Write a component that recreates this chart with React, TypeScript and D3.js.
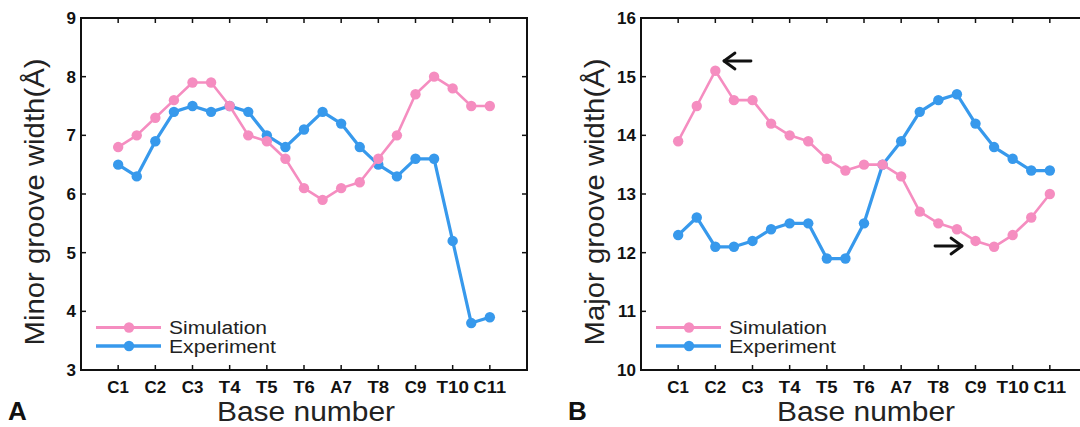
import React from "react";
import * as d3 from "d3";

const categories = ["C1", "C2", "C3", "T4", "T5", "T6", "A7", "T8", "C9", "T10", "C11"];

const minorSimulation = [6.8, 7.0, 7.3, 7.6, 7.9, 7.9, 7.5, 7.0, 6.9, 6.6, 6.1, 5.9, 6.1, 6.2, 6.6, 7.0, 7.7, 8.0, 7.8, 7.5, 7.5];
const minorExperiment = [6.5, 6.3, 6.9, 7.4, 7.5, 7.4, 7.5, 7.4, 7.0, 6.8, 7.1, 7.4, 7.2, 6.8, 6.5, 6.3, 6.6, 6.6, 5.2, 3.8, 3.9];

const majorSimulation = [13.9, 14.5, 15.1, 14.6, 14.6, 14.2, 14.0, 13.9, 13.6, 13.4, 13.5, 13.5, 13.3, 12.7, 12.5, 12.4, 12.2, 12.1, 12.3, 12.6, 13.0];
const majorExperiment = [12.3, 12.6, 12.1, 12.1, 12.2, 12.4, 12.5, 12.5, 11.9, 11.9, 12.5, 13.5, 13.9, 14.4, 14.6, 14.7, 14.2, 13.8, 13.6, 13.4, 13.4];

const minorTicks = [3, 4, 5, 6, 7, 8, 9];
const majorTicks = [10, 11, 12, 13, 14, 15, 16];

const seriesNames = ["Simulation", "Experiment"];

const PINK = "#F58DC0";
const BLUE = "#3799EC";
const FONT = "'Liberation Sans', Arial, Helvetica, sans-serif";

type PanelProps = {
  left: number;
  letter: string;
  yLabel: string;
  yDomain: [number, number];
  yTicks: number[];
  sim: number[];
  exp: number[];
  arrows?: { x: number; y: number; dir: "left" | "right" }[];
};

const TOP = 18;
const BOTTOM = 370;
const WIDTH = 446;

function Panel({ left, letter, yLabel, yDomain, yTicks, sim, exp, arrows }: PanelProps) {
  const x = d3.scaleLinear().domain([0, categories.length + 1]).range([left, left + WIDTH]);
  const y = d3.scaleLinear().domain(yDomain).range([BOTTOM, TOP]);
  const pos = sim.map((_, i) => 1 + i / 2);
  const line = d3
    .line<number>()
    .x((_, i) => x(pos[i]))
    .y((d) => y(d));
  const right = left + WIDTH;
  const tickLen = 5;
  const series = [
    { name: seriesNames[1], data: exp, color: BLUE, width: 3.2 },
    { name: seriesNames[0], data: sim, color: PINK, width: 2.6 },
  ];
  return (
    <g>
      <rect x={left} y={TOP} width={WIDTH} height={BOTTOM - TOP} fill="none" stroke="#111" strokeWidth={2} />
      {categories.map((c, i) => (
        <g key={c}>
          <line x1={x(i + 1)} x2={x(i + 1)} y1={BOTTOM} y2={BOTTOM - tickLen} stroke="#111" strokeWidth={1.5} />
          <line x1={x(i + 1)} x2={x(i + 1)} y1={TOP} y2={TOP + tickLen} stroke="#111" strokeWidth={1.5} />
          <text
            x={x(i + 1)}
            y={BOTTOM + 22.5}
            textAnchor="middle"
            fontFamily={FONT}
            fontWeight="bold"
            fontSize={16.5}
            fill="#111"
            textLength={c.length * 10.8}
            lengthAdjust="spacingAndGlyphs"
          >
            {c}
          </text>
        </g>
      ))}
      {yTicks.map((t) => (
        <g key={t}>
          <line x1={left} x2={left + tickLen} y1={y(t)} y2={y(t)} stroke="#111" strokeWidth={1.5} />
          <line x1={right} x2={right - tickLen} y1={y(t)} y2={y(t)} stroke="#111" strokeWidth={1.5} />
          <text
            x={left - 5}
            y={y(t) + 6}
            textAnchor="end"
            fontFamily={FONT}
            fontWeight="bold"
            fontSize={17}
            fill="#111"
          >
            {t}
          </text>
        </g>
      ))}
      {series.map((s) => (
        <g key={s.name}>
          <path d={line(s.data) || ""} fill="none" stroke={s.color} strokeWidth={s.width} strokeLinejoin="round" />
          {s.data.map((d, i) => (
            <circle key={i} cx={x(pos[i])} cy={y(d)} r={5.2} fill={s.color} />
          ))}
        </g>
      ))}
      {[
        { name: seriesNames[0], color: PINK, w: 2.8, dy: 327.5, len: 98 },
        { name: seriesNames[1], color: BLUE, w: 3.4, dy: 346, len: 107 },
      ].map((l) => (
        <g key={l.name}>
          <line x1={left + 15} x2={left + 80} y1={l.dy} y2={l.dy} stroke={l.color} strokeWidth={l.w} />
          <circle cx={left + 48} cy={l.dy} r={5.2} fill={l.color} />
          <text
            x={left + 88}
            y={l.dy + 6.5}
            fontFamily={FONT}
            fontSize={18}
            fill="#222"
            textLength={l.len}
            lengthAdjust="spacingAndGlyphs"
          >
            {l.name}
          </text>
        </g>
      ))}
      {(arrows || []).map((a, i) => {
        const len = 27;
        const x0 = a.dir === "left" ? a.x : a.x - len;
        const x1 = a.dir === "left" ? a.x + len : a.x;
        const tip = a.dir === "left" ? x0 : x1;
        const s = a.dir === "left" ? 1 : -1;
        return (
          <g key={i} stroke="#111" strokeWidth={2.8} fill="none" strokeLinecap="round" strokeLinejoin="round">
            <line x1={x0} x2={x1} y1={a.y} y2={a.y} />
            <polyline points={`${tip + s * 11},${a.y - 8} ${tip},${a.y} ${tip + s * 11},${a.y + 8}`} />
          </g>
        );
      })}
      <text
        x={left + WIDTH / 2 + 2}
        y={421}
        textAnchor="middle"
        fontFamily={FONT}
        fontSize={27}
        fill="#222"
        textLength={178}
        lengthAdjust="spacingAndGlyphs"
      >
        Base number
      </text>
      <text
        transform={`translate(${left - 37},${202}) rotate(-90)`}
        textAnchor="middle"
        fontFamily={FONT}
        fontSize={28}
        fill="#222"
        textLength={287}
        lengthAdjust="spacingAndGlyphs"
      >
        {yLabel}
      </text>
      <text x={left - 73} y={420} fontFamily={FONT} fontWeight="bold" fontSize={26} fill="#111">
        {letter}
      </text>
    </g>
  );
}

export default function App() {
  return (
    <svg
      width={1080}
      height={427}
      style={{ position: "absolute", left: 0, top: 0, background: "#fff" }}
      viewBox="0 0 1080 427"
    >
      <rect width={1080} height={427} fill="#fff" />
      <Panel
        left={81}
        letter="A"
        yLabel="Minor groove width(Å)"
        yDomain={[3, 9]}
        yTicks={minorTicks}
        sim={minorSimulation}
        exp={minorExperiment}
      />
      <Panel
        left={641}
        letter="B"
        yLabel="Major groove width(Å)"
        yDomain={[10, 16]}
        yTicks={majorTicks}
        sim={majorSimulation}
        exp={majorExperiment}
        arrows={[
          { x: 724, y: 61, dir: "left" },
          { x: 962, y: 246, dir: "right" },
        ]}
      />
    </svg>
  );
}
